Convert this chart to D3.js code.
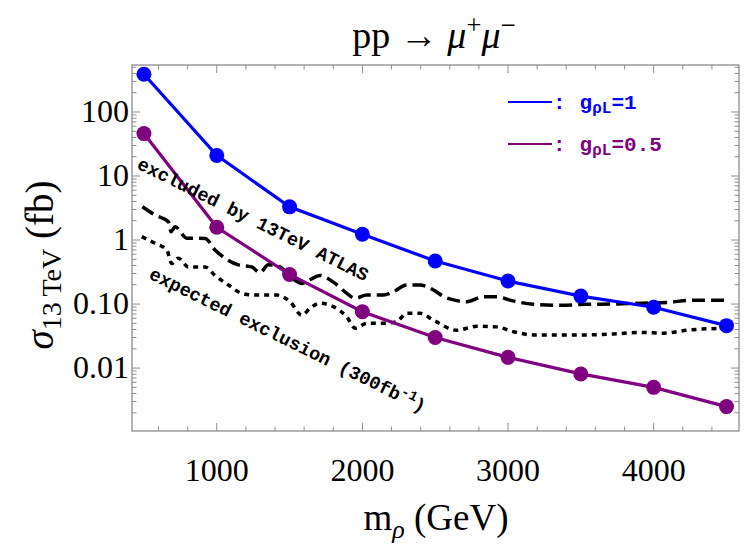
<!DOCTYPE html>
<html>
  <head>
    <meta charset="utf-8">
    <title>pp to mu mu</title>
    <script src="https://cdn.jsdelivr.net/npm/d3@7"></script>
    <style>
      body { margin: 0; background: #fff; }
      text { font-family: "Liberation Serif", "Times New Roman", serif; }
      .mono { font-family: "Liberation Mono", "Courier New", monospace; font-weight: bold; }
    </style>
  </head>
  <body>
    <div id="main"></div>
    <script>
      var WIDTH = 750, HEIGHT = 546;

      // model points (GeV, fb)
      var masses = [500, 1000, 1500, 2000, 2500, 3000, 3500, 4000, 4500];
      var sigmaG1 = [389, 21, 3.3, 1.23, 0.47, 0.229, 0.133, 0.089, 0.046];
      var sigmaG05 = [46, 1.58, 0.29, 0.076, 0.030, 0.0147, 0.0081, 0.0050, 0.0025];

      // 13 TeV ATLAS observed limit
      var obsMass = [489, 576, 668, 686, 714, 794, 920, 988, 1057, 1148, 1240, 1297, 1354, 1435,
                     1503, 1584, 1641, 1709, 1801, 1893, 1950, 2030, 2144, 2213, 2305, 2396, 2488,
                     2560, 2648, 2717, 2831, 2923, 3014, 3174, 3358, 3541, 3724, 3907, 4091, 4273, 4514];
      var obsLimit = [3.31, 2.46, 1.93, 1.35, 1.61, 1.07, 1.06, 0.70, 0.52, 0.41, 0.38, 0.31, 0.41, 0.38,
                      0.27, 0.21, 0.24, 0.28, 0.22, 0.147, 0.123, 0.138, 0.138, 0.156, 0.198, 0.198, 0.166,
                      0.130, 0.113, 0.109, 0.130, 0.130, 0.115, 0.099, 0.096, 0.099, 0.100, 0.103, 0.106, 0.115, 0.115];

      // expected exclusion, 300 fb^-1
      var expMass = [485, 576, 657, 691, 736, 805, 920, 988, 1080, 1172, 1263, 1412, 1503, 1584,
                     1641, 1709, 1801, 1893, 1950, 2030, 2144, 2236, 2305, 2396, 2488, 2648, 2786,
                     2923, 3037, 3174, 3541, 3724, 3907, 4067, 4228, 4514];
      var expLimit = [1.13, 0.89, 0.70, 0.43, 0.52, 0.38, 0.38, 0.28, 0.198, 0.147, 0.138, 0.138, 0.109, 0.067,
                      0.086, 0.103, 0.091, 0.063, 0.042, 0.050, 0.050, 0.053, 0.072, 0.072, 0.056, 0.039, 0.045,
                      0.044, 0.037, 0.033, 0.033, 0.034, 0.036, 0.035, 0.039, 0.042];

      var xTicks = [1000, 2000, 3000, 4000];
      var yTicks = [0.01, 0.1, 1, 10, 100];
      var yTickLabels = ["0.01", "0.10", "1", "10", "100"];

      var svg = d3.select('#main').append('svg')
                  .attr('width', WIDTH).attr('height', HEIGHT);

      var PL = 132, PR = 739, PT = 65, PB = 431; // plot frame
      var x = d3.scaleLinear().domain([418, 4586]).range([PL, PR]);
      var y = d3.scaleLog().domain([0.00104, 542]).range([PB, PT]);

      var frameColor = '#8c8c8c';

      // frame ticks (inward, all four sides)
      var xMinor = d3.range(600, 4600, 200);
      var yMinor = [];
      [0.001, 0.01, 0.1, 1, 10, 100].forEach(function(d) {
        for (var k = 1; k < 10; k++) {
          var v = d * k;
          if (v >= 0.00104 && v <= 542) yMinor.push(v);
        }
      });

      var ticks = svg.append('g').attr('stroke', frameColor).attr('stroke-width', 1);
      xMinor.forEach(function(v) {
        var len = (v % 1000 === 0) ? 8 : 4.5;
        ticks.append('line').attr('x1', x(v)).attr('x2', x(v)).attr('y1', PB).attr('y2', PB - len);
        ticks.append('line').attr('x1', x(v)).attr('x2', x(v)).attr('y1', PT).attr('y2', PT + len);
      });
      yMinor.forEach(function(v) {
        var major = Math.abs(Math.log10(v) - Math.round(Math.log10(v))) < 1e-9;
        var len = major ? 8 : 4.5;
        ticks.append('line').attr('x1', PL).attr('x2', PL + len).attr('y1', y(v)).attr('y2', y(v));
        ticks.append('line').attr('x1', PR).attr('x2', PR - len).attr('y1', y(v)).attr('y2', y(v));
      });

      svg.append('rect')
        .attr('x', PL).attr('y', PT)
        .attr('width', PR - PL).attr('height', PB - PT)
        .attr('fill', 'none').attr('stroke', frameColor).attr('stroke-width', 1.3);

      // tick labels
      svg.append('g').selectAll('text').data(xTicks).enter().append('text')
        .attr('x', function(d) { return x(d); })
        .attr('y', 481)
        .attr('text-anchor', 'middle')
        .attr('font-size', 32)
        .text(function(d) { return d; });

      svg.append('g').selectAll('text').data(yTicks).enter().append('text')
        .attr('x', 129)
        .attr('y', function(d) { return y(d) + 10; })
        .attr('text-anchor', 'end')
        .attr('font-size', 32)
        .text(function(d, i) { return yTickLabels[i]; });

      // limit curves
      var limitLine = d3.line()
        .x(function(d) { return x(d[0]); })
        .y(function(d) { return y(d[1]); })
        .curve(d3.curveMonotoneX);

      svg.append('path')
        .datum(d3.zip(obsMass, obsLimit))
        .attr('d', limitLine)
        .attr('fill', 'none').attr('stroke', '#000').attr('stroke-width', 3.5)
        .attr('stroke-dasharray', '13,6');

      svg.append('path')
        .datum(d3.zip(expMass, expLimit))
        .attr('d', limitLine)
        .attr('fill', 'none').attr('stroke', '#000').attr('stroke-width', 3.5)
        .attr('stroke-dasharray', '5,5');

      // model curves
      var modelLine = d3.line()
        .x(function(d) { return x(d[0]); })
        .y(function(d) { return y(d[1]); });

      var series = [
        { values: sigmaG1, color: '#0000ff' },
        { values: sigmaG05, color: '#800080' }
      ];

      series.forEach(function(s) {
        var pts = d3.zip(masses, s.values);
        svg.append('path')
          .datum(pts)
          .attr('d', modelLine)
          .attr('fill', 'none').attr('stroke', s.color).attr('stroke-width', 3.2);
        svg.append('g').selectAll('circle').data(pts).enter().append('circle')
          .attr('cx', function(d) { return x(d[0]); })
          .attr('cy', function(d) { return y(d[1]); })
          .attr('r', 7.5)
          .attr('fill', s.color);
      });

      // rotated annotations
      svg.append('text').attr('class', 'mono')
        .attr('transform', 'translate(136,168) rotate(26.4)')
        .attr('font-size', 18.5)
        .text('excluded by 13TeV ATLAS');

      var expText = svg.append('text').attr('class', 'mono')
        .attr('transform', 'translate(148,278) rotate(26.2)')
        .attr('font-size', 18.5);
      expText.append('tspan').text('expected exclusion (300fb');
      expText.append('tspan').attr('dy', -7).attr('font-size', 14).text('-1');
      expText.append('tspan').attr('dy', 7).text(')');

      // legend
      var legend = [
        { label: '1', color: '#0000ff', y: 102 },
        { label: '0.5', color: '#800080', y: 144 }
      ];
      legend.forEach(function(l) {
        svg.append('line')
          .attr('x1', 508).attr('x2', 552).attr('y1', l.y).attr('y2', l.y)
          .attr('stroke', l.color).attr('stroke-width', 2);
        var t = svg.append('text').attr('class', 'mono')
          .attr('x', 553).attr('y', l.y + 7)
          .attr('font-size', 21).attr('fill', l.color);
        t.append('tspan').text(':');
        t.append('tspan').attr('dx', 14).text('g');
        t.append('tspan').attr('dy', 4).attr('font-size', 16).text('\u03c1L');
        t.append('tspan').attr('dy', -4).text('=' + l.label);
      });

      // title
      var title = svg.append('text')
        .attr('x', 434).attr('y', 48)
        .attr('text-anchor', 'middle')
        .attr('font-size', 38);
      title.append('tspan').text('pp \u2192 ');
      title.append('tspan').attr('font-style', 'italic').text('\u03bc');
      title.append('tspan').attr('dy', -14).attr('font-size', 27).text('+');
      title.append('tspan').attr('dy', 14).attr('font-style', 'italic').text('\u03bc');
      title.append('tspan').attr('dy', -14).attr('font-size', 27).text('\u2212');

      // x-axis title
      var xt = svg.append('text')
        .attr('x', 436).attr('y', 530)
        .attr('text-anchor', 'middle')
        .attr('font-size', 37);
      xt.append('tspan').text('m');
      xt.append('tspan').attr('dy', 8).attr('font-size', 26).attr('font-style', 'italic').text('\u03c1');
      xt.append('tspan').attr('dy', -8).text(' (GeV)');

      // y-axis title
      var yt = svg.append('text')
        .attr('transform', 'translate(53,265) rotate(-90)')
        .attr('text-anchor', 'middle')
        .attr('font-size', 39);
      yt.append('tspan').attr('font-style', 'italic').text('\u03c3');
      yt.append('tspan').attr('dy', 8).attr('font-size', 28).text('13\u2009TeV');
      yt.append('tspan').attr('dy', -8).text(' (fb)');
    </script>
  </body>
</html>
